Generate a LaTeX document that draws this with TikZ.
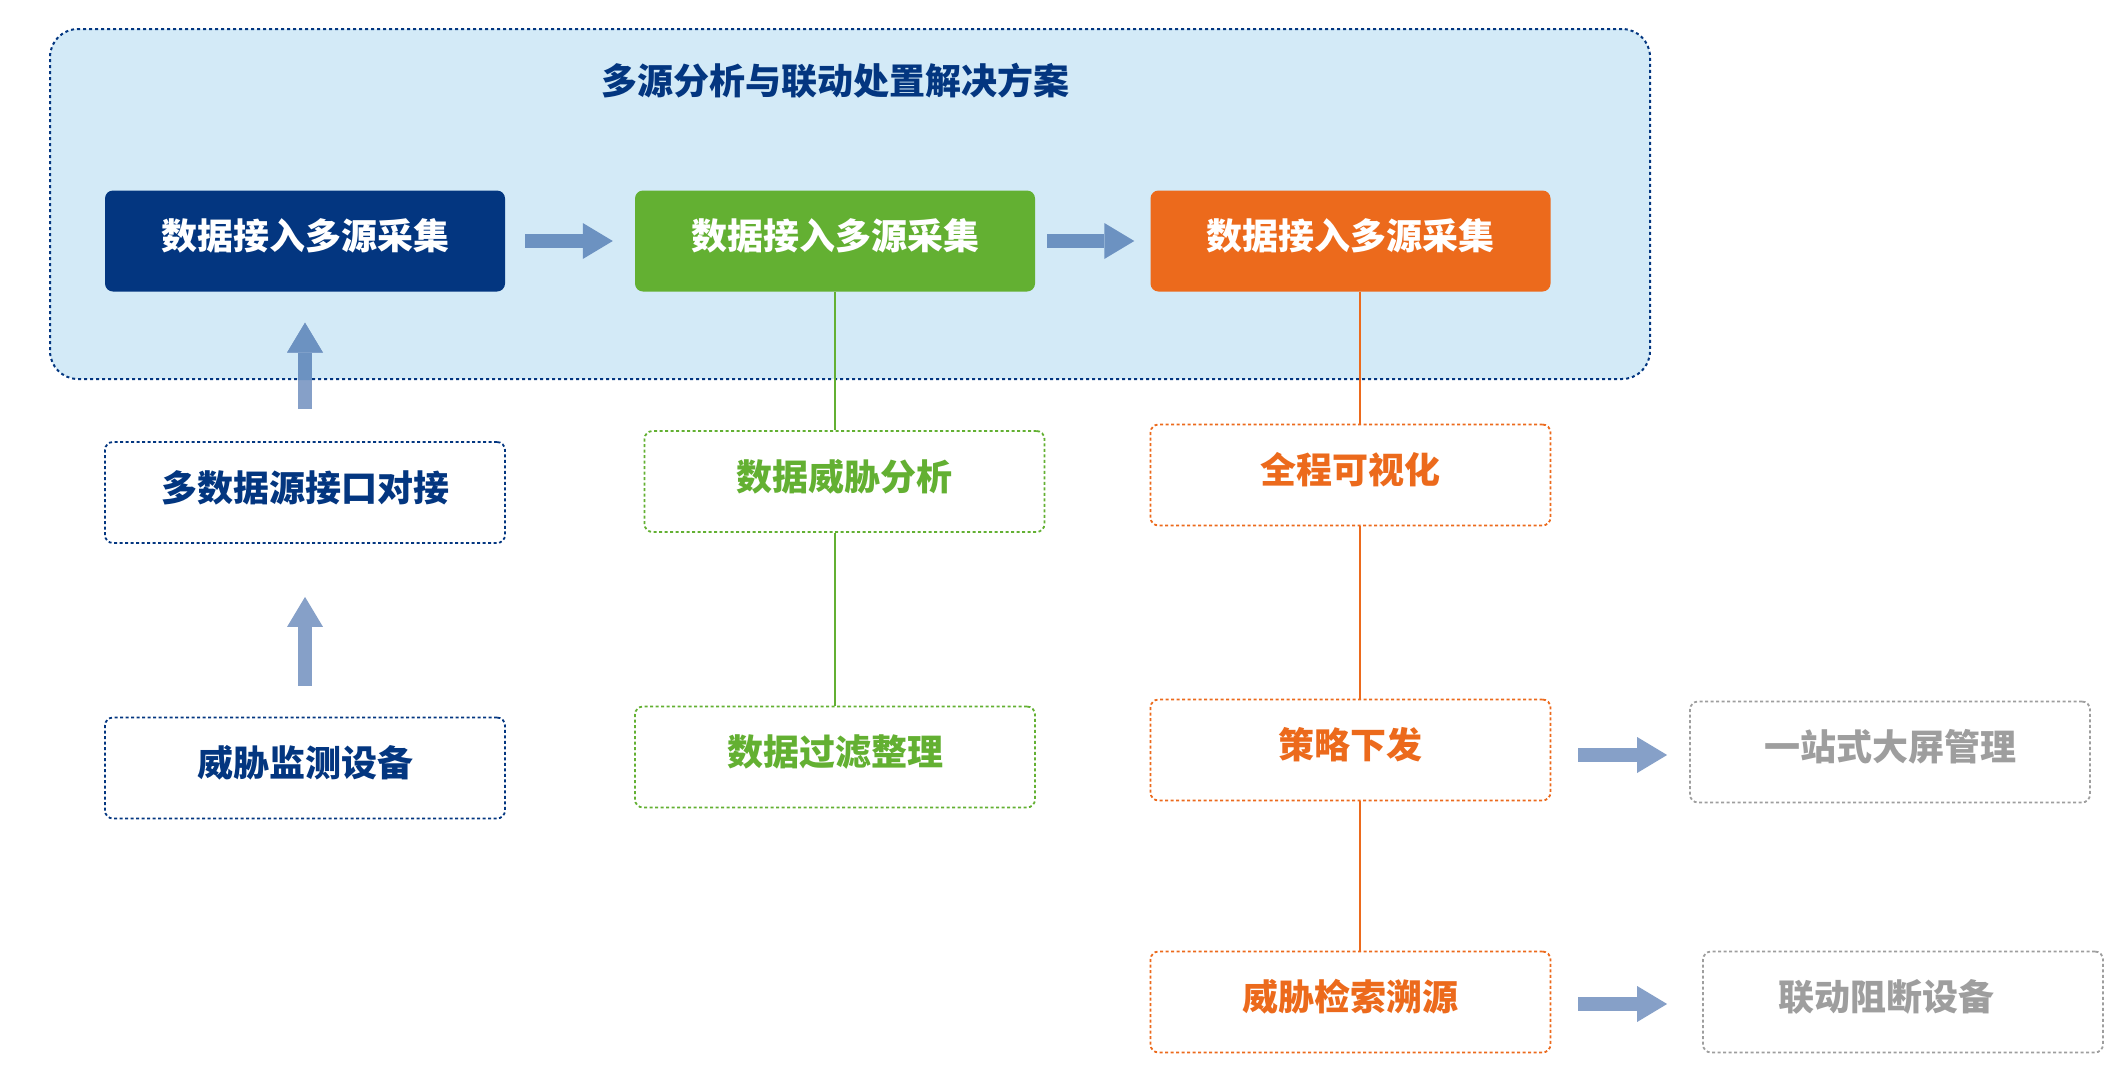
\documentclass[tikz,border=0pt]{standalone}
\usepackage{fontspec}
\newfontfamily\cjk{Noto Sans CJK SC}
\usetikzlibrary{arrows.meta}
\definecolor{navy}{RGB}{3,54,128}
\definecolor{leaf}{RGB}{99,176,50}
\definecolor{ember}{RGB}{236,106,28}
\definecolor{sky}{RGB}{211,234,247}
\definecolor{arrowdark}{RGB}{108,146,193}
\definecolor{arrowlight}{RGB}{134,160,200}
\definecolor{ash}{RGB}{158,158,158}
\begin{document}
\begin{tikzpicture}[x=1pt,y=-1pt,
  every node/.style={font=\cjk\bfseries\fontsize{36}{40}\selectfont,text height=28pt,text depth=11pt,inner sep=0pt},
  frame/.style={minimum width=1600pt,minimum height=350pt,rounded corners=28pt,fill=sky,draw=navy,line width=2pt,dash pattern=on 3pt off 3pt},
  box/.style={minimum width=400pt,minimum height=101pt,rounded corners=8pt},
  solidbox/.style={box,fill=#1,text=white},
  dotbox/.style={box,draw=#1,fill=white,text=#1,line width=1.8pt,dash pattern=on 3pt off 2.5pt},
  link/.style={draw=#1,line width=2pt},
  fat/.style={draw=#1,line width=14pt,-{Triangle[length=30pt,width=36pt,line width=0pt]}}]
\useasboundingbox (0,0) rectangle (2112,1080);
\node[frame] (frame) at (850,204) {};
\node[text=navy] (title) at (835,86) {多源分析与联动处置解决方案};
\node[solidbox=navy] (b1) at (305,241) {数据接入多源采集};
\node[solidbox=leaf] (g1) at (835,241) {数据接入多源采集};
\node[solidbox=ember] (o1) at (1350.5,241) {数据接入多源采集};
\node[dotbox=navy] (dock) at (305,492.5) {多数据源接口对接};
\node[dotbox=navy] (sens) at (305,768) {威胁监测设备};
\node[dotbox=leaf] (ana) at (844.5,481.5) {数据威胁分析};
\node[dotbox=leaf] (filt) at (835,757) {数据过滤整理};
\node[dotbox=ember] (vis) at (1350.5,475) {全程可视化};
\node[dotbox=ember] (pol) at (1350.5,750) {策略下发};
\node[dotbox=ember] (trace) at (1350.5,1002) {威胁检索溯源};
\node[dotbox=ash] (scr) at (1890,752) {一站式大屏管理};
\node[dotbox=ash] (block) at (1903,1002) {\hspace*{-34pt}联动阻断设备};
\draw[link=leaf] (g1) -- (g1 |- ana.north);
\draw[link=leaf] (ana.south -| g1) -- (filt);
\draw[link=ember] ([xshift=9pt]o1.south) -- ([xshift=9pt]o1.south |- vis.north);
\draw[link=ember] ([xshift=9pt]vis.south) -- ([xshift=9pt]vis.south |- pol.north);
\draw[link=ember] ([xshift=9pt]pol.south) -- ([xshift=9pt]pol.south |- trace.north);
\draw[fat=arrowdark,shorten <=20pt,shorten >=22pt] (b1) -- (g1);
\draw[fat=arrowdark,shorten <=12pt,shorten >=16pt] (g1) -- (o1);
\draw[fat=arrowlight,shorten <=32pt,shorten >=31pt] (dock) -- (b1);
\begin{scope}
\clip[rounded corners=28pt] (frame.north west) rectangle (frame.south east);
\draw[fat=arrowdark,shorten <=32pt,shorten >=31pt] (dock) -- (b1);
\end{scope}
\draw[fat=arrowlight,shorten <=31pt,shorten >=53pt] (sens) -- (dock);
\draw[fat=arrowlight,shorten <=27pt,shorten >=22pt] ([yshift=-5pt]pol.east) -- ([yshift=-5pt]pol.east -| scr.west);
\draw[fat=arrowlight,shorten <=27pt,shorten >=35pt] ([yshift=-2pt]trace.east) -- ([yshift=-2pt]trace.east -| block.west);
\end{tikzpicture}
\end{document}
